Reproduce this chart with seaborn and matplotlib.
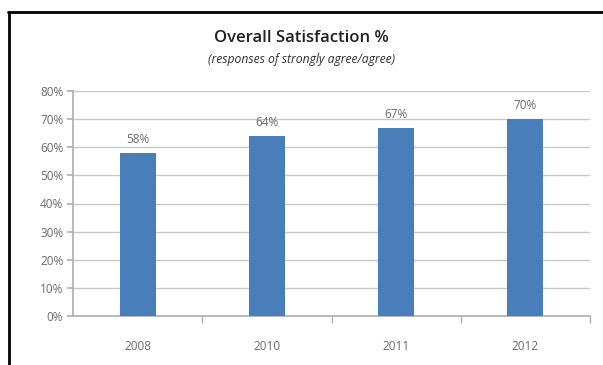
import matplotlib
matplotlib.use("Agg")
import matplotlib.pyplot as plt
import matplotlib.lines as mlines
import seaborn as sns
import pandas as pd

years = ["2008", "2010", "2011", "2012"]
satisfaction = [58, 64, 67, 70]
value_labels = ["58%", "64%", "67%", "70%"]
y_ticks = [0, 10, 20, 30, 40, 50, 60, 70, 80]
y_tick_labels = ["0%", "10%", "20%", "30%", "40%", "50%", "60%", "70%", "80%"]
title = "Overall Satisfaction %"
subtitle = "(responses of strongly agree/agree)"

sns.set_theme(style="white")
plt.rcParams['font.family'] = ['Open Sans', 'DejaVu Sans']

df = pd.DataFrame({"year": years, "value": satisfaction})

fig = plt.figure(figsize=(6.03, 3.65), dpi=100)
ax = fig.add_axes([73/603, 1-316/365, (590-73)/603, (316-91)/365])

sns.barplot(data=df, x="year", y="value", color="#4a7ebb", width=0.28,
            saturation=1, ax=ax, edgecolor="#4a7ebb", linewidth=0, zorder=3)

ax.set_ylim(0, 80)
ax.set_xlim(-0.5, 3.5)
ax.set_yticks(y_ticks)
ax.set_yticklabels(y_tick_labels, color="#6a6a6a", fontsize=8.5)
ax.set_xticklabels(years, color="#6a6a6a", fontsize=8.5)
ax.set_xlabel("")
ax.set_ylabel("")
ax.yaxis.grid(True, color="#c8c8c8", linewidth=1, zorder=0)
ax.xaxis.grid(False)
for s in ["top", "right"]:
    ax.spines[s].set_visible(False)
ax.spines["left"].set_color("#b0b0b0")
ax.spines["bottom"].set_color("#b0b0b0")
ax.tick_params(axis="y", which="both", left=True, length=4, color="#b0b0b0", pad=3)
ax.tick_params(axis="x", which="major", bottom=False, pad=11)
ax.set_xticks([0.5, 1.5, 2.5, 3.5], minor=True)
ax.tick_params(axis="x", which="minor", bottom=True, length=5, color="#b0b0b0")

for i, (v, lab) in enumerate(zip(satisfaction, value_labels)):
    ax.annotate(lab, (i, v), xytext=(0, 5), textcoords="offset points",
                ha="center", va="bottom", fontsize=8.5, color="#6a6a6a")

fig.text(0.5, 1-38/365, title, ha="center", va="center", fontsize=12,
         color="#202020", fontweight="semibold")
fig.text(0.5, 1-59/365, subtitle, ha="center", va="center", fontsize=8.7,
         color="#303030", style="italic")

# outer frame lines (left and top)
fig.add_artist(mlines.Line2D([9/603, 9/603], [0, 1-12/365], color="black",
                             linewidth=2, transform=fig.transFigure))
fig.add_artist(mlines.Line2D([8/603, 1], [1-12/365, 1-12/365], color="black",
                             linewidth=2, transform=fig.transFigure))

fig.savefig("out.png", dpi=100)
